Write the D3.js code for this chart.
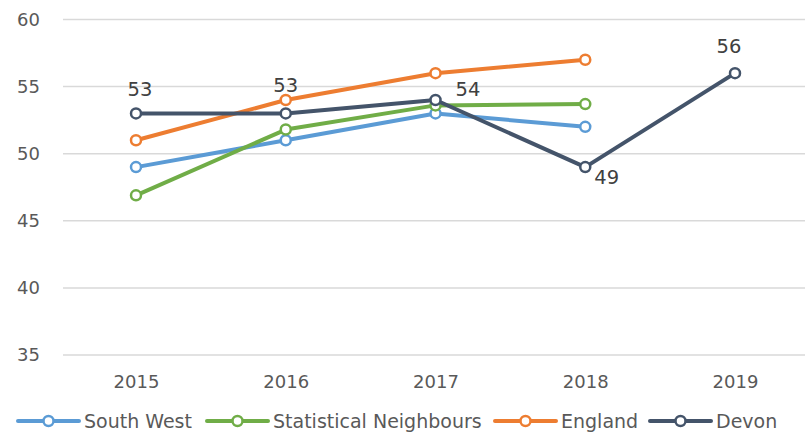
<!DOCTYPE html>
<html><head><meta charset="utf-8">
<script src="https://cdn.jsdelivr.net/npm/d3@7"></script>
<style>body{margin:0;background:#fff}svg{display:block}text{font-family:"DejaVu Sans",sans-serif}</style>
</head><body><svg id="c" width="805" height="434"></svg>
<script>
const years = ["2015","2016","2017","2018","2019"];
const southWest = [49, 51, 53, 52, null];
const statNeighbours = [46.9, 51.8, 53.6, 53.7, null];
const england = [51, 54, 56, 57, null];
const devon = [53, 53, 54, 49, 56];
const yTicks = [35, 40, 45, 50, 55, 60];
const seriesNames = ["South West", "Statistical Neighbours", "England", "Devon"];
const seriesColors = ["#5b9bd5", "#70ad47", "#ed7d31", "#44546a"];
const seriesData = [southWest, statNeighbours, england, devon];

const svg = d3.select("#c");
const x = d3.scalePoint().domain(years).range([136, 735]);
const y = d3.scaleLinear().domain([35, 60]).range([355, 19.5]);

// gridlines
svg.append("g").selectAll("line").data(yTicks).join("line")
  .attr("x1", 63).attr("x2", 805)
  .attr("y1", d => y(d)).attr("y2", d => y(d))
  .attr("stroke", "#d9d9d9").attr("stroke-width", 1.5);

// y axis labels
const yAxis = d3.axisLeft(y).tickValues(yTicks).tickSize(0).tickPadding(0);
const gy = svg.append("g").attr("transform", "translate(40,0)").call(yAxis);
gy.select(".domain").remove();
gy.selectAll("text").attr("font-size", 18).attr("fill", "#595959").attr("font-family", "DejaVu Sans");

// x axis labels
const xAxis = d3.axisBottom(x).tickSize(0).tickPadding(0);
const gx = svg.append("g").attr("transform", "translate(0,375)").call(xAxis);
gx.select(".domain").remove();
gx.selectAll("text").attr("font-size", 18).attr("fill", "#595959").attr("font-family", "DejaVu Sans");

// lines
const line = d3.line().defined(d => d.v != null).x(d => x(d.yr)).y(d => y(d.v));
seriesData.forEach((vals, i) => {
  const pts = vals.map((v, j) => ({yr: years[j], v}));
  svg.append("path").datum(pts).attr("d", line)
    .attr("fill", "none").attr("stroke", seriesColors[i]).attr("stroke-width", 4)
    .attr("stroke-linejoin", "round").attr("stroke-linecap", "round");
  svg.append("g").selectAll("circle").data(pts.filter(d => d.v != null)).join("circle")
    .attr("cx", d => x(d.yr)).attr("cy", d => y(d.v)).attr("r", 5)
    .attr("fill", "#fff").attr("stroke", seriesColors[i]).attr("stroke-width", 2.5);
});

// Devon data labels
const labelPos = [[4, -24, "middle"], [0, -28, "middle"], [20, -11, "start"], [9, 10, "start"], [-6, -27, "middle"]];
svg.append("g").selectAll("text").data(devon).join("text")
  .attr("x", (d, j) => x(years[j]) + labelPos[j][0])
  .attr("y", (d, j) => y(d) + labelPos[j][1])
  .attr("text-anchor", (d, j) => labelPos[j][2])
  .attr("dy", "0.36em")
  .attr("font-size", 19.5).attr("fill", "#404040")
  .text(d => d);

// legend
const legendX = [18, 207, 495, 650];
const lg = svg.append("g");
seriesNames.forEach((n, i) => {
  const g = lg.append("g").attr("transform", `translate(${legendX[i]},421)`);
  g.append("line").attr("x1", 0).attr("x2", 61).attr("stroke", seriesColors[i]).attr("stroke-width", 4).attr("stroke-linecap", "round");
  g.append("circle").attr("cx", 30.5).attr("r", 5).attr("fill", "#fff").attr("stroke", seriesColors[i]).attr("stroke-width", 2.5);
  g.append("text").attr("x", 66).attr("dy", "0.36em").attr("font-size", 19).attr("fill", "#595959").text(n);
});
</script></body></html>
